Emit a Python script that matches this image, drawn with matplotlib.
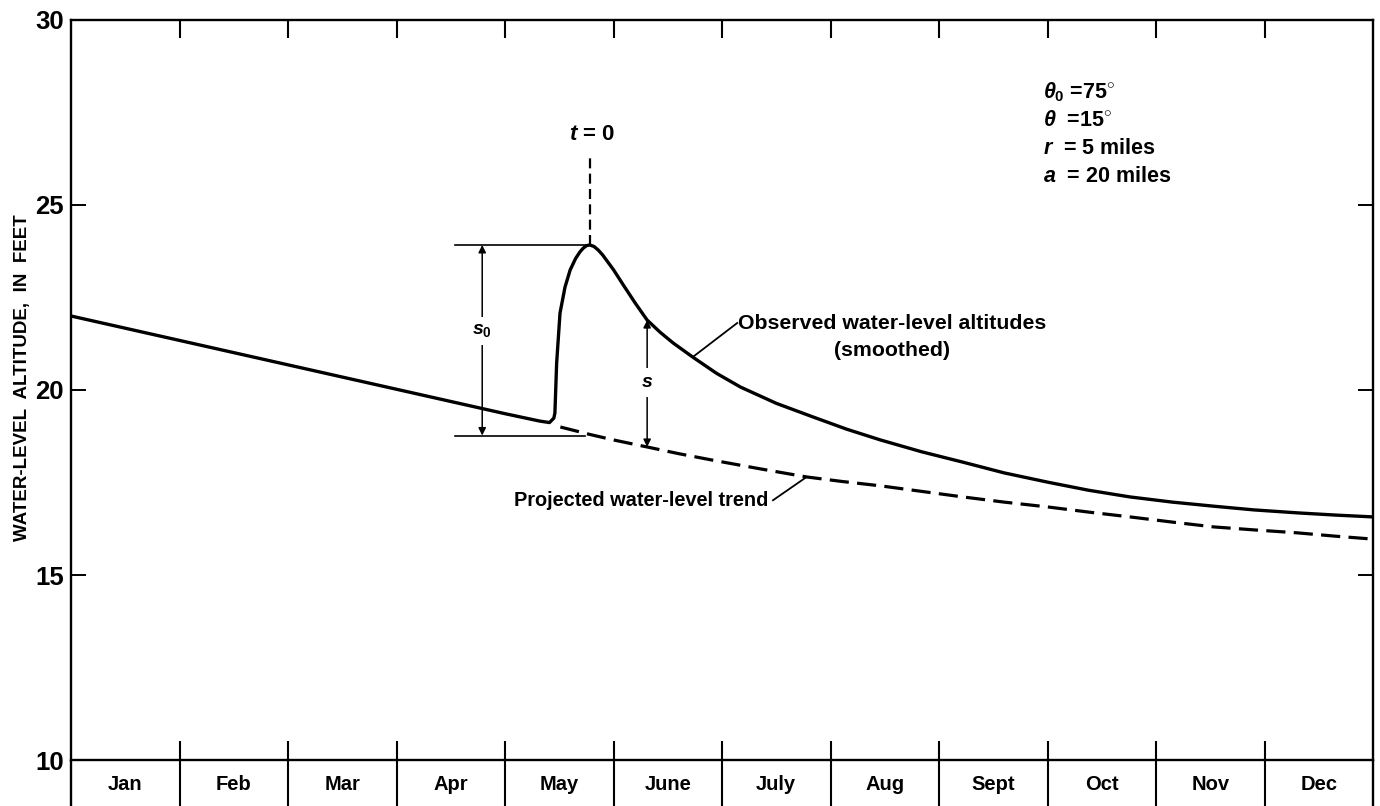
import matplotlib
matplotlib.use('Agg')
import matplotlib.pyplot as plt
import numpy as np

plt.rcParams['font.family'] = ['Liberation Sans', 'DejaVu Sans']
plt.rcParams['font.weight'] = 'bold'
plt.rcParams['mathtext.fontset'] = 'custom'
plt.rcParams['mathtext.rm'] = 'Liberation Sans:bold'
plt.rcParams['mathtext.it'] = 'Liberation Sans:italic:bold'
plt.rcParams['mathtext.bf'] = 'Liberation Sans:bold'

# Months along the bottom (x in months from Jan 1).
months = ['Jan', 'Feb', 'Mar', 'Apr', 'May', 'June', 'July', 'Aug',
          'Sept', 'Oct', 'Nov', 'Dec']
month_edges = np.arange(0, 13)

# Observed water-level altitudes (smoothed).
obs_x = [0.0, 1.0, 2.0, 3.0, 4.0, 4.32, 4.41, 4.45, 4.46, 4.476, 4.507,
         4.553, 4.60, 4.65, 4.69, 4.72, 4.75, 4.78, 4.82, 4.86, 4.90, 5.0,
         5.09, 5.2, 5.31, 5.43, 5.55, 5.73, 5.95, 6.17, 6.5, 6.84, 7.15,
         7.46, 7.84, 8.22, 8.6, 9.0, 9.38, 9.76, 10.15, 10.53, 10.9, 11.3,
         11.65, 12.0]
obs_y = [22.0, 21.34, 20.68, 20.02, 19.36, 19.16, 19.12, 19.24, 19.38,
         20.73, 22.08, 22.78, 23.24, 23.55, 23.73, 23.83, 23.9, 23.92,
         23.88, 23.78, 23.65, 23.25, 22.84, 22.35, 21.89, 21.56, 21.27,
         20.89, 20.45, 20.08, 19.64, 19.27, 18.94, 18.65, 18.33, 18.05,
         17.76, 17.51, 17.29, 17.11, 16.97, 16.86, 16.76, 16.68, 16.62,
         16.57]

# Projected water-level trend.
trend_x = [4.51, 4.78, 5.0, 5.31, 5.6, 5.92, 6.35, 6.78, 7.1, 7.46, 7.84,
           8.22, 8.6, 9.0, 9.38, 9.76, 10.15, 10.53, 10.9, 11.3, 11.65, 12.0]
trend_y = [19.0, 18.8, 18.65, 18.46, 18.28, 18.1, 17.87, 17.65, 17.53,
           17.41, 17.26, 17.11, 16.97, 16.84, 16.7, 16.57, 16.43, 16.3,
           16.22, 16.14, 16.05, 15.97]

# Reference levels.
t0 = 4.78
peak_level = 23.92
base_level = 18.77
s_x = 5.31
s_top = 21.89
s_bottom = 18.46

fig = plt.figure(figsize=(13.8, 8.06), dpi=100)
ax = fig.add_axes([0.05145, 0.05707, 0.94348, 0.91812])

# Curves.
ax.plot(obs_x, obs_y, c='k', lw=2.4, solid_joinstyle='round',
        solid_capstyle='round')
ax.plot(trend_x, trend_y, c='k', lw=2.3, dashes=(6, 2.6))

# t = 0 line.
ax.plot([t0, t0], [peak_level, 26.3], c='k', lw=1.6, dashes=(4.5, 2.4))
ax.text(t0 + 0.02, 26.9, '$t$ = 0', ha='center', va='center', fontsize=16)

# s0 dimension.
ax.plot([3.54, t0], [peak_level, peak_level], c='k', lw=1.2)
ax.plot([3.54, 4.74], [base_level, base_level], c='k', lw=1.2)
ax.annotate('', xy=(3.79, peak_level), xytext=(3.79, base_level),
            arrowprops=dict(arrowstyle='<|-|>', color='k', lw=1.1,
                            mutation_scale=11, shrinkA=0, shrinkB=0))
ax.text(3.79, 21.6, '$s_0$', ha='center', va='center', fontsize=14,
        bbox=dict(fc='white', ec='none', pad=4))

# s dimension.
ax.annotate('', xy=(s_x, s_top), xytext=(s_x, s_bottom),
            arrowprops=dict(arrowstyle='<|-|>', color='k', lw=1.1,
                            mutation_scale=11, shrinkA=0, shrinkB=0))
ax.text(s_x, 20.2, '$s$', ha='center', va='center', fontsize=14,
        bbox=dict(fc='white', ec='none', pad=4))

# Curve labels with leaders.
ax.plot([5.73, 6.14], [20.89, 21.81], c='k', lw=1.3)
ax.text(6.15, 21.81, 'Observed water-level altitudes', ha='left',
        va='center', fontsize=15.3)
ax.text(7.57, 21.08, '(smoothed)', ha='center', va='center', fontsize=15.3)

ax.plot([6.47, 6.78], [17.02, 17.65], c='k', lw=1.3)
ax.text(6.43, 17.02, 'Projected water-level trend', ha='right',
        va='center', fontsize=14.4)

# Parameters.
params = [r'$\theta_0$ =75$^{\circ}$', r'$\theta$  =15$^{\circ}$',
          r'$r$  = 5 miles', r'$a$  = 20 miles']
for k, p in enumerate(params):
    ax.text(8.96, 28.05 - 0.76 * k, p, ha='left', va='center', fontsize=15.5)

# Axes, ticks and month table.
ax.set_xlim(0, 12)
ax.set_ylim(10, 30)
for sp in ax.spines.values():
    sp.set_linewidth(1.7)
ax.set_yticks([10, 15, 20, 25, 30])
ax.tick_params(axis='y', direction='in', length=11, width=1.4,
               left=True, right=True, labelsize=18.5, pad=5)
ax.set_xticks(np.arange(12) + 0.5)
ax.set_xticklabels(months)
ax.tick_params(axis='x', length=0, labelsize=14.5, pad=11)

xt = ax.get_xaxis_transform()
ax.vlines(month_edges[1:-1], 0.975, 1.0, colors='k', lw=1.5, transform=xt)
ax.vlines(month_edges[1:-1], -0.07, 0.026, colors='k', lw=1.5,
          transform=xt, clip_on=False)
ax.vlines([0, 12], -0.07, 0.0, colors='k', lw=1.7, transform=xt,
          clip_on=False)

fig.text(0.0165, 0.532, 'WATER-LEVEL  ALTITUDE,  IN  FEET', rotation=90,
         ha='center', va='center', fontsize=13.5)

fig.savefig('out.png', dpi=100)
